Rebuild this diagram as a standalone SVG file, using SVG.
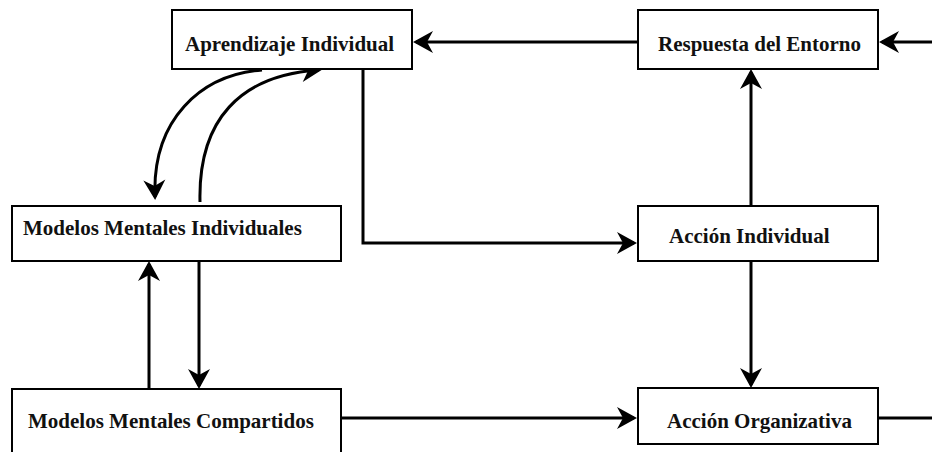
<svg xmlns="http://www.w3.org/2000/svg" width="932" height="452" viewBox="0 0 932 452">
<style>
.box{fill:#fff;stroke:#000;stroke-width:2}
.lbl{font-family:"Liberation Serif","Times New Roman",serif;font-weight:bold;font-size:21px;fill:#111}
.con{fill:none;stroke:#000;stroke-width:3}
</style>
<defs>
<marker id="ah" markerUnits="userSpaceOnUse" viewBox="-20 -12 24 24" markerWidth="24" markerHeight="24" refX="0" refY="0" orient="auto" overflow="visible">
<path d="M3,0 L-17,-11 L-11,0 L-17,11 Z" fill="#000"/>
</marker>
</defs>
<rect width="932" height="452" fill="#fff"/>
<g id="connectors">
<path class="con" d="M637,42 H416" marker-end="url(#ah)"/>
<path class="con" d="M932,42 H882" marker-end="url(#ah)"/>
<path class="con" d="M751,206 V72" marker-end="url(#ah)"/>
<path class="con" d="M363,69 V243 H634" marker-end="url(#ah)"/>
<path class="con" d="M751,261 V385" marker-end="url(#ah)"/>
<path class="con" d="M341,418 H634" marker-end="url(#ah)"/>
<path class="con" d="M879,418 H932"/>
<path class="con" d="M149,389 V264" marker-end="url(#ah)"/>
<path class="con" d="M199,261 V386" marker-end="url(#ah)"/>
<path class="con" d="M262,70 C200,75 152,120 155,197" marker-end="url(#ah)"/>
<path class="con" d="M200,202 C198,120 240,75 319,70" marker-end="url(#ah)"/>
</g>
<g id="aprendizaje">
<rect class="box" x="172" y="10" width="240" height="59"/>
<text class="lbl" x="185" y="51">Aprendizaje Individual</text>
</g>
<g id="respuesta">
<rect class="box" x="638" y="10" width="240" height="59"/>
<text class="lbl" x="658" y="51">Respuesta del Entorno</text>
</g>
<g id="mmi">
<rect class="box" x="12" y="206" width="329" height="55"/>
<text class="lbl" x="23" y="235">Modelos Mentales Individuales</text>
</g>
<g id="accion-individual">
<rect class="box" x="638" y="206" width="240" height="55"/>
<text class="lbl" x="669" y="243">Acción Individual</text>
</g>
<g id="mmc">
<rect class="box" x="12" y="389" width="329" height="70"/>
<text class="lbl" x="28" y="428">Modelos Mentales Compartidos</text>
</g>
<g id="accion-organizativa">
<rect class="box" x="638" y="388" width="240" height="56"/>
<text class="lbl" x="667" y="428">Acción Organizativa</text>
</g>
</svg>
